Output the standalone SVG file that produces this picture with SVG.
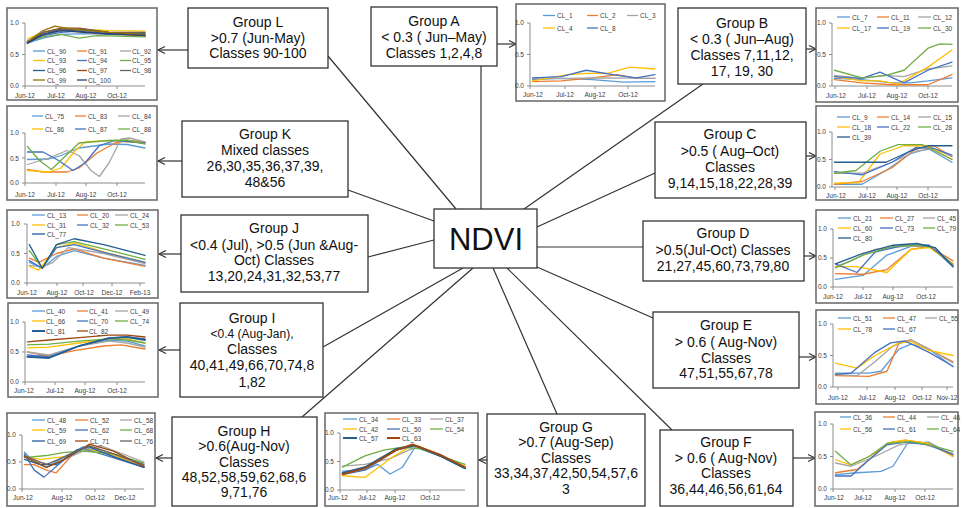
<svg xmlns="http://www.w3.org/2000/svg" width="962" height="508" viewBox="0 0 962 508">
<style>
.box{fill:#fff;stroke:#333;stroke-width:1.3}
.gt{font-family:"Liberation Sans",Arial,sans-serif;font-size:14px;fill:#111;text-anchor:middle}
.fr{fill:#fff;stroke:#666;stroke-width:1.5}
.ax{stroke:#8c8c8c;stroke-width:1;fill:none}
.tk{font-family:"Liberation Sans",Arial,sans-serif;font-size:6.5px;fill:#404040}
.ty{font-family:"Liberation Sans",Arial,sans-serif;font-size:6.5px;fill:#404040;text-anchor:end}
.tx{font-family:"Liberation Sans",Arial,sans-serif;font-size:6.5px;fill:#404040;text-anchor:middle}
.d{fill:none;stroke-width:1.3;vector-effect:non-scaling-stroke;stroke-linejoin:round;stroke-linecap:round}
.lgl{stroke-width:1.3}
.c1{stroke:#5B9BD5}.c2{stroke:#ED7D31}.c3{stroke:#A5A5A5}.c4{stroke:#FFC000}.c5{stroke:#4472C4}.c6{stroke:#70AD47}.c7{stroke:#255E91}.c8{stroke:#9E480E}.c9{stroke:#636363}.c10{stroke:#997300}.c11{stroke:#264478}
.cn{stroke:#333;stroke-width:1.2;fill:none}
.ar{stroke:#333;stroke-width:1.2;fill:none;marker-end:url(#ah)}
</style>
<defs>
<marker id="ah" markerWidth="10" markerHeight="10" refX="8" refY="4.5" orient="auto" markerUnits="userSpaceOnUse"><path d="M1,1 L8,4.5 L1,8" fill="none" stroke="#333" stroke-width="1.2"/></marker>
</defs>
<rect width="962" height="508" fill="#fff"/>

<g id="connectors">
<line class="cn" x1="328" y1="56" x2="456" y2="209"/>
<line class="cn" x1="481" y1="66" x2="481" y2="209"/>
<line class="cn" x1="703" y1="84" x2="524" y2="209"/>
<line class="cn" x1="655" y1="173" x2="537" y2="227"/>
<line class="cn" x1="643" y1="247" x2="537" y2="247"/>
<line class="cn" x1="653" y1="318" x2="537" y2="267"/>
<line class="cn" x1="672" y1="430" x2="507" y2="268"/>
<line class="cn" x1="557" y1="414" x2="493" y2="268"/>
<line class="cn" x1="302" y1="417" x2="473" y2="268"/>
<line class="cn" x1="323" y1="347" x2="463" y2="268"/>
<line class="cn" x1="368" y1="257" x2="434" y2="240"/>
<line class="cn" x1="348" y1="190" x2="434" y2="221"/>
<line class="ar" x1="188" y1="50" x2="158" y2="50"/>
<line class="ar" x1="182" y1="161" x2="158" y2="161"/>
<line class="ar" x1="181" y1="254" x2="159" y2="254"/>
<line class="ar" x1="180" y1="350" x2="159" y2="350"/>
<line class="ar" x1="172" y1="458" x2="156" y2="458"/>
<line class="ar" x1="487" y1="460" x2="479" y2="460"/>
<line class="ar" x1="497" y1="44" x2="516" y2="44"/>
<line class="ar" x1="806" y1="49" x2="816" y2="49"/>
<line class="ar" x1="806" y1="156" x2="816" y2="156"/>
<line class="ar" x1="804" y1="256" x2="816" y2="256"/>
<line class="ar" x1="799" y1="357" x2="816" y2="357"/>
<line class="ar" x1="793" y1="458" x2="815" y2="458"/>
</g>

<g id="ndvi">
<rect class="box" x="434" y="209" width="103" height="59"/>
<text x="486" y="250" style="font-family:'Liberation Sans',Arial,sans-serif;font-size:31px;fill:#111;text-anchor:middle">NDVI</text>
</g>

<g id="groupL"><rect class="box" x="188" y="8" width="140" height="60"/>
<text class="gt" x="258" y="27">Group L</text><text class="gt" x="258" y="43">&gt;0.7 (Jun-May)</text><text class="gt" x="258" y="58">Classes 90-100</text></g>
<g id="groupA"><rect class="box" x="371" y="7" width="126" height="59"/>
<text class="gt" x="434" y="26">Group A</text><text class="gt" x="434" y="42">&lt; 0.3 ( Jun–May)</text><text class="gt" x="434" y="58">Classes 1,2,4,8</text></g>
<g id="groupB"><rect class="box" x="678" y="8" width="128" height="76"/>
<text class="gt" x="742" y="28">Group B</text><text class="gt" x="742" y="44">&lt; 0.3 ( Jun–Aug)</text><text class="gt" x="742" y="60">Classes 7,11,12,</text><text class="gt" x="742" y="76">17, 19, 30</text></g>
<g id="groupK"><rect class="box" x="182" y="121" width="166" height="76"/>
<text class="gt" x="265" y="139">Group K</text><text class="gt" x="265" y="155">Mixed classes</text><text class="gt" x="265" y="171">26,30,35,36,37,39,</text><text class="gt" x="265" y="187">48&amp;56</text></g>
<g id="groupC"><rect class="box" x="655" y="122" width="151" height="76"/>
<text class="gt" x="730" y="139">Group C</text><text class="gt" x="730" y="156">&gt;0.5 ( Aug–Oct)</text><text class="gt" x="730" y="172">Classes</text><text class="gt" x="730" y="188">9,14,15,18,22,28,39</text></g>
<g id="groupJ"><rect class="box" x="181" y="215" width="187" height="77"/>
<text class="gt" x="274" y="233">Group J</text><text class="gt" x="274" y="250">&lt;0.4 (Jul), &gt;0.5 (Jun &amp;Aug-</text><text class="gt" x="274" y="265">Oct) Classes</text><text class="gt" x="274" y="281">13,20,24,31,32,53,77</text></g>
<g id="groupD"><rect class="box" x="643" y="221" width="161" height="60"/>
<text class="gt" x="723" y="238">Group D</text><text class="gt" x="723" y="255">&gt;0.5(Jul-Oct) Classes</text><text class="gt" x="723" y="271">21,27,45,60,73,79,80</text></g>
<g id="groupI"><rect class="box" x="180" y="303" width="143" height="94"/>
<text class="gt" x="252" y="323">Group I</text><text class="gt" x="252" y="338" style="font-size:12px">&lt;0.4 (Aug-Jan),</text><text class="gt" x="252" y="354">Classes</text><text class="gt" x="252" y="370">40,41,49,66,70,74,8</text><text class="gt" x="252" y="387">1,82</text></g>
<g id="groupE"><rect class="box" x="653" y="312" width="146" height="76"/>
<text class="gt" x="726" y="330">Group E</text><text class="gt" x="726" y="347">&gt; 0.6 ( Aug-Nov)</text><text class="gt" x="726" y="363">Classes</text><text class="gt" x="726" y="378">47,51,55,67,78</text></g>
<g id="groupH"><rect class="box" x="172" y="417" width="145" height="89"/>
<text class="gt" x="244" y="436">Group H</text><text class="gt" x="244" y="451">&gt;0.6(Aug-Nov)</text><text class="gt" x="244" y="467">Classes</text><text class="gt" x="244" y="482">48,52,58,59,62,68,6</text><text class="gt" x="244" y="497">9,71,76</text></g>
<g id="groupG"><rect class="box" x="487" y="414" width="158" height="92"/>
<text class="gt" x="566" y="432">Group G</text><text class="gt" x="566" y="447">&gt;0.7 (Aug-Sep)</text><text class="gt" x="566" y="463">Classes</text><text class="gt" x="566" y="478">33,34,37,42,50,54,57,6</text><text class="gt" x="566" y="494">3</text></g>
<g id="groupF"><rect class="box" x="660" y="430" width="133" height="76"/>
<text class="gt" x="726" y="447">Group F</text><text class="gt" x="726" y="463">&gt; 0.6 ( Aug-Nov)</text><text class="gt" x="726" y="478">Classes</text><text class="gt" x="726" y="494">36,44,46,56,61,64</text></g>

<!-- Chart L -->
<g id="chartL">
<rect class="fr" x="7" y="8" width="150" height="92"/>
<path class="ax" d="M25,23V86H145M22,23H25M22,54.5H25M22,86H25M25,86v3M56,86v3M86,86v3M117,86v3"/>
<text class="ty" x="19" y="25">1.0</text><text class="ty" x="19" y="57">0.5</text><text class="ty" x="19" y="88">0.0</text>
<text class="tx" x="25" y="98">Jun-12</text><text class="tx" x="56" y="98">Jul-12</text><text class="tx" x="86" y="98">Aug-12</text><text class="tx" x="117" y="98">Oct-12</text>
<g transform="translate(25,86) scale(120,-63)">
<polyline class="d c1" points="0.02,0.68 0.15,0.76 0.3,0.82 0.5,0.83 0.7,0.82 1,0.8"/>
<polyline class="d c2" points="0.02,0.7 0.15,0.8 0.3,0.88 0.5,0.85 0.7,0.82 1,0.8"/>
<polyline class="d c3" points="0.02,0.72 0.15,0.82 0.3,0.87 0.5,0.88 0.7,0.85 1,0.84"/>
<polyline class="d c4" points="0.02,0.75 0.15,0.85 0.3,0.9 0.5,0.9 0.7,0.88 1,0.87"/>
<polyline class="d c5" points="0.02,0.7 0.15,0.8 0.3,0.85 0.5,0.88 0.7,0.82 1,0.82"/>
<polyline class="d c6" points="0.02,0.7 0.15,0.78 0.3,0.82 0.45,0.76 0.6,0.8 1,0.78"/>
<polyline class="d c7" points="0.02,0.68 0.15,0.82 0.3,0.9 0.5,0.86 0.7,0.82 1,0.83"/>
<polyline class="d c8" points="0.02,0.68 0.15,0.85 0.3,0.92 0.45,0.92 0.7,0.85 1,0.8"/>
<polyline class="d c9" points="0.02,0.7 0.15,0.85 0.3,0.9 0.5,0.9 0.7,0.85 1,0.85"/>
<polyline class="d c10" points="0.02,0.7 0.15,0.88 0.25,0.95 0.4,0.9 0.7,0.85 1,0.82"/>
<polyline class="d c11" points="0.02,0.68 0.15,0.82 0.3,0.88 0.5,0.85 0.7,0.83 1,0.8"/>
</g>
<g class="tk">
<line class="lgl c1" x1="33" y1="51" x2="45" y2="51"/><text x="47" y="53.5">CL_90</text>
<line class="lgl c2" x1="77" y1="51" x2="87" y2="51"/><text x="88" y="53.5">CL_91</text>
<line class="lgl c3" x1="120" y1="51" x2="131" y2="51"/><text x="132" y="53.5">CL_92</text>
<line class="lgl c4" x1="33" y1="60.5" x2="45" y2="60.5"/><text x="47" y="63">CL_93</text>
<line class="lgl c5" x1="77" y1="60.5" x2="87" y2="60.5"/><text x="88" y="63">CL_94</text>
<line class="lgl c6" x1="120" y1="60.5" x2="131" y2="60.5"/><text x="132" y="63">CL_95</text>
<line class="lgl c7" x1="33" y1="70.5" x2="45" y2="70.5"/><text x="47" y="73">CL_96</text>
<line class="lgl c8" x1="77" y1="70.5" x2="87" y2="70.5"/><text x="88" y="73">CL_97</text>
<line class="lgl c9" x1="120" y1="70.5" x2="131" y2="70.5"/><text x="132" y="73">CL_98</text>
<line class="lgl c10" x1="33" y1="80" x2="45" y2="80"/><text x="47" y="82.5">CL_99</text>
<line class="lgl c11" x1="77" y1="80" x2="87" y2="80"/><text x="88" y="82.5">CL_100</text>
</g>
</g>

<!-- Chart K -->
<g id="chartK">
<rect class="fr" x="7" y="106" width="150" height="94"/>
<path class="ax" d="M25,133V183H145M22,133H25M22,158H25M22,183H25M25,183v3M56,183v3M86,183v3M117,183v3"/>
<text class="ty" x="19" y="135">1.0</text><text class="ty" x="19" y="160.5">0.5</text><text class="ty" x="19" y="185">0.0</text>
<text class="tx" x="25" y="197">Jun-12</text><text class="tx" x="56" y="197">Jul-12</text><text class="tx" x="86" y="197">Aug-12</text><text class="tx" x="117" y="197">Oct-12</text>
<g transform="translate(25,183) scale(120,-50)">
<polyline class="d c1" points="0.02,0.47 0.2,0.48 0.3,0.55 0.45,0.7 0.7,0.78 0.85,0.77 1,0.7"/>
<polyline class="d c2" points="0.02,0.27 0.15,0.22 0.35,0.22 0.45,0.3 0.6,0.6 0.75,0.8 0.85,0.85 1,0.82"/>
<polyline class="d c3" points="0.02,0.37 0.2,0.5 0.35,0.65 0.45,0.55 0.55,0.25 0.62,0.13 0.7,0.4 0.8,0.88 0.87,0.9 1,0.82"/>
<polyline class="d c4" points="0.02,0.25 0.2,0.22 0.3,0.3 0.42,0.65 0.5,0.82 0.7,0.85 1,0.8"/>
<polyline class="d c5" points="0.02,0.62 0.15,0.62 0.28,0.45 0.4,0.25 0.5,0.4 0.62,0.75 0.75,0.85 1,0.8"/>
<polyline class="d c6" points="0.02,0.73 0.12,0.45 0.22,0.27 0.32,0.5 0.45,0.8 0.7,0.85 0.85,0.86 1,0.78"/>
</g>
<g class="tk">
<line class="lgl c1" x1="32" y1="116" x2="43" y2="116"/><text x="45" y="118.5">CL_75</text>
<line class="lgl c2" x1="75" y1="116" x2="86" y2="116"/><text x="88" y="118.5">CL_83</text>
<line class="lgl c3" x1="118" y1="116" x2="130" y2="116"/><text x="132" y="118.5">CL_84</text>
<line class="lgl c4" x1="32" y1="129" x2="43" y2="129"/><text x="45" y="131.5">CL_86</text>
<line class="lgl c5" x1="75" y1="129" x2="86" y2="129"/><text x="88" y="131.5">CL_87</text>
<line class="lgl c6" x1="118" y1="129" x2="130" y2="129"/><text x="132" y="131.5">CL_88</text>
</g>
</g>

<!-- Chart J -->
<g id="chartJ">
<rect class="fr" x="7" y="210" width="151" height="88"/>
<path class="ax" d="M27,224V283H145M24,224H27M24,253.5H27M24,283H27M27,283v3M57,283v3M83,283v3M112,283v3M140,283v3"/>
<text class="ty" x="20" y="226">1.0</text><text class="ty" x="20" y="255.5">0.5</text><text class="ty" x="20" y="285">0.0</text>
<text class="tx" x="27" y="295">Jun-12</text><text class="tx" x="57" y="295">Aug-12</text><text class="tx" x="84" y="295">Oct-12</text><text class="tx" x="112" y="295">Dec-12</text><text class="tx" x="140" y="295">Feb-13</text>
<g transform="translate(27,283) scale(118,-59)">
<polyline class="d c1" points="0.02,0.35 0.13,0.25 0.25,0.45 0.4,0.55 0.65,0.42 1,0.3"/>
<polyline class="d c2" points="0.02,0.42 0.1,0.35 0.25,0.5 0.4,0.58 0.65,0.42 1,0.28"/>
<polyline class="d c3" points="0.02,0.3 0.13,0.27 0.22,0.35 0.35,0.6 0.65,0.5 1,0.33"/>
<polyline class="d c4" points="0.02,0.28 0.1,0.22 0.25,0.6 0.4,0.68 0.7,0.5 1,0.35"/>
<polyline class="d c5" points="0.02,0.38 0.13,0.25 0.25,0.6 0.4,0.65 0.65,0.52 1,0.35"/>
<polyline class="d c6" points="0.02,0.55 0.13,0.25 0.25,0.65 0.4,0.7 0.65,0.58 1,0.4"/>
<polyline class="d c7" points="0.02,0.65 0.13,0.25 0.25,0.65 0.4,0.75 0.65,0.65 1,0.47"/>
</g>
<g class="tk">
<line class="lgl c1" x1="32" y1="215" x2="45" y2="215"/><text x="47" y="217.5">CL_13</text>
<line class="lgl c2" x1="77" y1="215" x2="88" y2="215"/><text x="90" y="217.5">CL_20</text>
<line class="lgl c3" x1="115" y1="215" x2="128" y2="215"/><text x="130" y="217.5">CL_24</text>
<line class="lgl c4" x1="32" y1="225" x2="45" y2="225"/><text x="47" y="227.5">CL_31</text>
<line class="lgl c5" x1="77" y1="225" x2="88" y2="225"/><text x="90" y="227.5">CL_32</text>
<line class="lgl c6" x1="115" y1="225" x2="128" y2="225"/><text x="130" y="227.5">CL_53</text>
<line class="lgl c7" x1="32" y1="234" x2="45" y2="234"/><text x="47" y="236.5">CL_77</text>
</g>
</g>

<!-- Chart I -->
<g id="chartI">
<rect class="fr" x="8" y="303" width="150" height="94"/>
<path class="ax" d="M25,322V382H145M22,322H25M22,352H25M22,382H25M25,382v3M55,382v3M85,382v3M117,382v3"/>
<text class="ty" x="19" y="324">1.0</text><text class="ty" x="19" y="354">0.5</text><text class="ty" x="19" y="384">0.0</text>
<text class="tx" x="24" y="393">Jun-12</text><text class="tx" x="55" y="393">Jul-12</text><text class="tx" x="85" y="393">Aug-12</text><text class="tx" x="117" y="393">Oct-12</text>
<g transform="translate(25,382) scale(120,-60)">
<polyline class="d c1" points="0.02,0.42 0.2,0.45 0.45,0.6 0.7,0.7 0.85,0.68 1,0.6"/>
<polyline class="d c2" points="0.02,0.5 0.2,0.43 0.4,0.52 0.65,0.6 0.8,0.62 1,0.55"/>
<polyline class="d c3" points="0.02,0.5 0.2,0.45 0.45,0.6 0.7,0.68 0.85,0.65 1,0.58"/>
<polyline class="d c4" points="0.02,0.57 0.2,0.58 0.45,0.65 0.7,0.72 0.85,0.72 1,0.65"/>
<polyline class="d c5" points="0.02,0.45 0.2,0.42 0.45,0.6 0.7,0.73 0.85,0.75 1,0.72"/>
<polyline class="d c6" points="0.02,0.62 0.2,0.63 0.45,0.68 0.7,0.72 0.85,0.7 1,0.65"/>
<polyline class="d c7" points="0.02,0.42 0.2,0.4 0.45,0.6 0.7,0.73 0.85,0.75 1,0.7" style="stroke-width:1.8"/>
<polyline class="d c8" points="0.02,0.67 0.2,0.7 0.45,0.74 0.7,0.78 0.85,0.78 1,0.75"/>
</g>
<g class="tk">
<line class="lgl c1" x1="32" y1="311" x2="45" y2="311"/><text x="46" y="313.5">CL_40</text>
<line class="lgl c2" x1="77" y1="311" x2="88" y2="311"/><text x="89" y="313.5">CL_41</text>
<line class="lgl c3" x1="115" y1="311" x2="128" y2="311"/><text x="130" y="313.5">CL_49</text>
<line class="lgl c4" x1="32" y1="321" x2="45" y2="321"/><text x="46" y="323.5">CL_66</text>
<line class="lgl c5" x1="77" y1="321" x2="88" y2="321"/><text x="89" y="323.5">CL_70</text>
<line class="lgl c6" x1="115" y1="321" x2="128" y2="321"/><text x="130" y="323.5">CL_74</text>
<line class="lgl c7" x1="32" y1="331" x2="45" y2="331" style="stroke-width:2"/><text x="46" y="333.5">CL_81</text>
<line class="lgl c8" x1="77" y1="331" x2="88" y2="331"/><text x="89" y="333.5">CL_82</text>
</g>
</g>

<!-- Chart H -->
<g id="chartH">
<rect class="fr" x="7" y="413" width="148" height="93"/>
<path class="ax" d="M22,435V489H144M19,435H22M19,462H22M19,489H22M22,489v3M62,489v3M95,489v3M125,489v3"/>
<text class="ty" x="16" y="437">1.0</text><text class="ty" x="16" y="464">0.5</text><text class="ty" x="16" y="491">0.0</text>
<text class="tx" x="23" y="500">Jun-12</text><text class="tx" x="62" y="500">Aug-12</text><text class="tx" x="95" y="500">Oct-12</text><text class="tx" x="125" y="500">Dec-12</text>
<g transform="translate(22,489) scale(122,-54)">
<polyline class="d c1" points="0.02,0.68 0.1,0.5 0.2,0.4 0.35,0.6 0.5,0.78 0.7,0.65 1,0.42"/>
<polyline class="d c2" points="0.02,0.45 0.1,0.45 0.2,0.35 0.28,0.3 0.42,0.65 0.55,0.8 0.75,0.65 1,0.42"/>
<polyline class="d c3" points="0.02,0.6 0.12,0.5 0.25,0.45 0.5,0.7 0.65,0.8 1,0.5"/>
<polyline class="d c4" points="0.02,0.6 0.15,0.55 0.35,0.6 0.5,0.75 0.72,0.65 1,0.4"/>
<polyline class="d c5" points="0.02,0.65 0.1,0.35 0.18,0.22 0.35,0.55 0.5,0.75 0.72,0.6 1,0.4"/>
<polyline class="d c6" points="0.02,0.58 0.2,0.62 0.35,0.68 0.5,0.7 0.75,0.65 1,0.48"/>
<polyline class="d c7" points="0.02,0.55 0.15,0.45 0.28,0.45 0.45,0.72 0.55,0.78 0.75,0.6 1,0.4"/>
<polyline class="d c8" points="0.02,0.6 0.2,0.4 0.35,0.55 0.55,0.83 0.75,0.7 1,0.42"/>
<polyline class="d c9" points="0.02,0.62 0.2,0.45 0.35,0.6 0.55,0.8 0.75,0.65 1,0.45"/>
</g>
<g class="tk">
<line class="lgl c1" x1="32" y1="420" x2="45" y2="420"/><text x="47" y="422.5">CL_48</text>
<line class="lgl c2" x1="75" y1="420" x2="88" y2="420"/><text x="90" y="422.5">CL_52</text>
<line class="lgl c3" x1="120" y1="420" x2="132" y2="420"/><text x="134" y="422.5">CL_58</text>
<line class="lgl c4" x1="32" y1="430" x2="45" y2="430"/><text x="47" y="432.5">CL_59</text>
<line class="lgl c5" x1="75" y1="430" x2="88" y2="430"/><text x="90" y="432.5">CL_62</text>
<line class="lgl c6" x1="120" y1="430" x2="132" y2="430"/><text x="134" y="432.5">CL_68</text>
<line class="lgl c7" x1="32" y1="441" x2="45" y2="441"/><text x="47" y="443.5">CL_69</text>
<line class="lgl c8" x1="75" y1="441" x2="88" y2="441"/><text x="90" y="443.5">CL_71</text>
<line class="lgl c9" x1="120" y1="441" x2="132" y2="441"/><text x="134" y="443.5">CL_76</text>
</g>
</g>

<!-- Chart G -->
<g id="chartG">
<rect class="fr" x="325" y="413" width="153" height="93"/>
<path class="ax" d="M340,433V490H465M337,433H340M337,461.5H340M337,490H340M340,490v3M367,490v3M395,490v3M430,490v3"/>
<text class="ty" x="334" y="435">1.0</text><text class="ty" x="334" y="463.5">0.5</text><text class="ty" x="334" y="492">0.0</text>
<text class="tx" x="338" y="500">Jun-12</text><text class="tx" x="367" y="500">Jul-12</text><text class="tx" x="395" y="500">Aug-12</text><text class="tx" x="430" y="500">Oct-12</text>
<g transform="translate(340,490) scale(125,-57)">
<polyline class="d c1" points="0.02,0.33 0.2,0.35 0.3,0.45 0.4,0.28 0.5,0.4 0.6,0.75 0.8,0.6 1,0.4"/>
<polyline class="d c2" points="0.02,0.27 0.2,0.4 0.45,0.7 0.6,0.78 0.8,0.6 1,0.4"/>
<polyline class="d c3" points="0.02,0.42 0.2,0.45 0.4,0.55 0.55,0.7 0.62,0.75 0.8,0.6 1,0.4"/>
<polyline class="d c4" points="0.02,0.25 0.2,0.22 0.4,0.55 0.55,0.75 0.62,0.78 0.8,0.6 1,0.42"/>
<polyline class="d c5" points="0.02,0.27 0.2,0.35 0.45,0.7 0.6,0.78 0.8,0.6 1,0.38"/>
<polyline class="d c6" points="0.02,0.4 0.2,0.6 0.35,0.7 0.5,0.75 0.65,0.72 0.8,0.6 1,0.45"/>
<polyline class="d c7" points="0.02,0.3 0.2,0.4 0.45,0.72 0.6,0.78 0.8,0.6 1,0.38" style="stroke-width:1.8"/>
<polyline class="d c8" points="0.02,0.28 0.2,0.38 0.45,0.7 0.58,0.8 0.8,0.62 1,0.4" style="stroke-width:1.8"/>
</g>
<g class="tk">
<line class="lgl c1" x1="343" y1="419" x2="357" y2="419"/><text x="359" y="421.5">CL_34</text>
<line class="lgl c2" x1="387" y1="419" x2="400" y2="419"/><text x="402" y="421.5">CL_33</text>
<line class="lgl c3" x1="430" y1="419" x2="443" y2="419"/><text x="445" y="421.5">CL_37</text>
<line class="lgl c4" x1="343" y1="429" x2="357" y2="429"/><text x="359" y="431.5">CL_42</text>
<line class="lgl c5" x1="387" y1="429" x2="400" y2="429"/><text x="402" y="431.5">CL_50</text>
<line class="lgl c6" x1="430" y1="429" x2="443" y2="429"/><text x="445" y="431.5">CL_54</text>
<line class="lgl c7" x1="343" y1="438" x2="357" y2="438" style="stroke-width:2"/><text x="359" y="440.5">CL_57</text>
<line class="lgl c8" x1="387" y1="438" x2="400" y2="438" style="stroke-width:2"/><text x="402" y="440.5">CL_63</text>
</g>
</g>

<!-- Chart A -->
<g id="chartA">
<rect class="fr" x="516" y="4" width="149" height="97"/>
<path class="ax" d="M530,23V86H655M527,23H530M527,54.5H530M527,86H530M530,86v3M565,86v3M595,86v3M628,86v3"/>
<text class="ty" x="524" y="25">1.0</text><text class="ty" x="524" y="56.5">0.5</text><text class="ty" x="524" y="88">0.0</text>
<text class="tx" x="533" y="97">Jun-12</text><text class="tx" x="565" y="97">Jul-12</text><text class="tx" x="595" y="97">Aug-12</text><text class="tx" x="628" y="97">Oct-12</text>
<g transform="translate(530,86) scale(125,-63)">
<polyline class="d c1" points="0.02,0.1 0.25,0.12 0.5,0.1 0.75,0.06 1,0.07"/>
<polyline class="d c2" points="0.02,0.07 0.25,0.08 0.5,0.13 0.7,0.18 0.85,0.12 1,0.12"/>
<polyline class="d c3" points="0.02,0.12 0.3,0.12 0.6,0.13 1,0.12"/>
<polyline class="d c4" points="0.02,0.08 0.3,0.18 0.45,0.2 0.62,0.2 0.8,0.3 1,0.27"/>
<polyline class="d c5" points="0.02,0.13 0.25,0.15 0.45,0.25 0.7,0.17 0.85,0.13 1,0.18"/>
</g>
<g class="tk">
<line class="lgl c1" x1="543" y1="15.5" x2="555" y2="15.5"/><text x="557" y="18">CL_1</text>
<line class="lgl c2" x1="587" y1="15.5" x2="598" y2="15.5"/><text x="600" y="18">CL_2</text>
<line class="lgl c3" x1="627" y1="15.5" x2="638" y2="15.5"/><text x="640" y="18">CL_3</text>
<line class="lgl c4" x1="543" y1="28" x2="555" y2="28"/><text x="557" y="30.5">CL_4</text>
<line class="lgl c5" x1="587" y1="28" x2="598" y2="28"/><text x="600" y="30.5">CL_8</text>
</g>
</g>

<!-- Chart B -->
<g id="chartB">
<rect class="fr" x="816" y="8" width="142" height="94"/>
<path class="ax" d="M832,23V86H952M829,23H832M829,54.5H832M829,86H832M835,86v3M867,86v3M897,86v3M928,86v3"/>
<text class="ty" x="826" y="25">1.0</text><text class="ty" x="826" y="56.5">0.5</text><text class="ty" x="826" y="88">0.0</text>
<text class="tx" x="836" y="98">Jun-12</text><text class="tx" x="867" y="98">Jul-12</text><text class="tx" x="897" y="98">Aug-12</text><text class="tx" x="928" y="98">Oct-12</text>
<g transform="translate(832,86) scale(120,-63)">
<polyline class="d c1" points="0.02,0.12 0.25,0.1 0.5,0.05 0.65,0.05 0.8,0.08 1,0.13"/>
<polyline class="d c2" points="0.02,0.1 0.25,0.05 0.5,0.02 0.8,0.02 1,0.18"/>
<polyline class="d c3" points="0.02,0.17 0.25,0.12 0.45,0.17 0.6,0.15 0.8,0.27 1,0.32"/>
<polyline class="d c4" points="0.02,0.15 0.25,0.08 0.4,0.08 0.55,0.03 0.8,0.3 1,0.57"/>
<polyline class="d c5" points="0.02,0.15 0.25,0.12 0.4,0.22 0.6,0.05 0.8,0.25 1,0.38"/>
<polyline class="d c6" points="0.02,0.25 0.25,0.13 0.45,0.17 0.6,0.25 0.8,0.6 0.9,0.67 1,0.66"/>
</g>
<g class="tk">
<line class="lgl c1" x1="837" y1="17" x2="850" y2="17"/><text x="852" y="19.5">CL_7</text>
<line class="lgl c2" x1="877" y1="17" x2="889" y2="17"/><text x="891" y="19.5">CL_11</text>
<line class="lgl c3" x1="918" y1="17" x2="931" y2="17"/><text x="933" y="19.5">CL_12</text>
<line class="lgl c4" x1="837" y1="28" x2="850" y2="28"/><text x="852" y="30.5">CL_17</text>
<line class="lgl c5" x1="877" y1="28" x2="889" y2="28"/><text x="891" y="30.5">CL_19</text>
<line class="lgl c6" x1="918" y1="28" x2="931" y2="28"/><text x="933" y="30.5">CL_30</text>
</g>
</g>

<!-- Chart C -->
<g id="chartC">
<rect class="fr" x="816" y="106" width="142" height="94"/>
<path class="ax" d="M832,132V187H952M829,132H832M829,159.5H832M829,187H832M835,187v3M867,187v3M897,187v3M928,187v3"/>
<text class="ty" x="826" y="134">1.0</text><text class="ty" x="826" y="161.5">0.5</text><text class="ty" x="826" y="189">0.0</text>
<text class="tx" x="836" y="198">Jun-12</text><text class="tx" x="867" y="198">Jul-12</text><text class="tx" x="897" y="198">Aug-12</text><text class="tx" x="928" y="198">Oct-12</text>
<g transform="translate(832,187) scale(120,-55)">
<polyline class="d c1" points="0.02,0.05 0.25,0.05 0.45,0.3 0.65,0.6 0.8,0.7 1,0.45"/>
<polyline class="d c2" points="0.02,0.05 0.25,0.1 0.5,0.35 0.7,0.7 0.85,0.75 1,0.55"/>
<polyline class="d c3" points="0.02,0.25 0.25,0.25 0.5,0.45 0.7,0.65 0.85,0.7 1,0.55"/>
<polyline class="d c4" points="0.02,0.07 0.22,0.08 0.4,0.6 0.6,0.75 0.8,0.75 1,0.5"/>
<polyline class="d c5" points="0.02,0.28 0.25,0.22 0.5,0.45 0.7,0.72 0.85,0.7 1,0.58"/>
<polyline class="d c6" points="0.02,0.25 0.2,0.3 0.4,0.65 0.55,0.77 0.75,0.77 1,0.5"/>
<polyline class="d c7" points="0.02,0.45 0.3,0.45 0.45,0.45 0.65,0.65 0.8,0.75 1,0.75"/>
</g>
<g class="tk">
<line class="lgl c1" x1="837" y1="117" x2="850" y2="117"/><text x="852" y="119.5">CL_9</text>
<line class="lgl c2" x1="877" y1="117" x2="889" y2="117"/><text x="891" y="119.5">CL_14</text>
<line class="lgl c3" x1="918" y1="117" x2="931" y2="117"/><text x="933" y="119.5">CL_15</text>
<line class="lgl c4" x1="837" y1="127" x2="850" y2="127"/><text x="852" y="129.5">CL_18</text>
<line class="lgl c5" x1="877" y1="127" x2="889" y2="127"/><text x="891" y="129.5">CL_22</text>
<line class="lgl c6" x1="918" y1="127" x2="931" y2="127"/><text x="933" y="129.5">CL_28</text>
<line class="lgl c7" x1="837" y1="137" x2="850" y2="137"/><text x="852" y="139.5">CL_39</text>
</g>
</g>

<!-- Chart D -->
<g id="chartD">
<rect class="fr" x="816" y="210" width="142" height="93"/>
<path class="ax" d="M833,229V287H953M830,229H833M830,258H833M830,287H833M833,287v3M863,287v3M893,287v3M926,287v3"/>
<text class="ty" x="827" y="231">1.0</text><text class="ty" x="827" y="260">0.5</text><text class="ty" x="827" y="289">0.0</text>
<text class="tx" x="833" y="299">Jun-12</text><text class="tx" x="863" y="299">Jul-12</text><text class="tx" x="893" y="299">Aug-12</text><text class="tx" x="926" y="299">Oct-12</text>
<g transform="translate(833,287) scale(120,-58)">
<polyline class="d c1" points="0.02,0.13 0.25,0.2 0.45,0.55 0.65,0.7 0.8,0.72 1,0.35"/>
<polyline class="d c2" points="0.02,0.23 0.25,0.22 0.45,0.3 0.65,0.65 0.8,0.7 1,0.45"/>
<polyline class="d c3" points="0.02,0.35 0.15,0.45 0.35,0.65 0.6,0.7 0.8,0.7 1,0.4"/>
<polyline class="d c4" points="0.02,0.35 0.2,0.35 0.45,0.25 0.65,0.65 0.8,0.68 1,0.4"/>
<polyline class="d c5" points="0.02,0.4 0.2,0.25 0.35,0.6 0.6,0.72 0.8,0.72 1,0.38"/>
<polyline class="d c6" points="0.02,0.33 0.25,0.55 0.5,0.7 0.7,0.72 0.85,0.68 1,0.37"/>
<polyline class="d c7" points="0.02,0.4 0.25,0.58 0.5,0.72 0.7,0.75 0.85,0.68 1,0.35"/>
</g>
<g class="tk">
<line class="lgl c1" x1="838" y1="218" x2="851" y2="218"/><text x="853" y="220.5">CL_21</text>
<line class="lgl c2" x1="880" y1="218" x2="893" y2="218"/><text x="895" y="220.5">CL_27</text>
<line class="lgl c3" x1="923" y1="218" x2="935" y2="218"/><text x="937" y="220.5">CL_45</text>
<line class="lgl c4" x1="838" y1="228" x2="851" y2="228"/><text x="853" y="230.5">CL_60</text>
<line class="lgl c5" x1="880" y1="228" x2="893" y2="228"/><text x="895" y="230.5">CL_73</text>
<line class="lgl c6" x1="923" y1="228" x2="935" y2="228"/><text x="937" y="230.5">CL_79</text>
<line class="lgl c7" x1="838" y1="238" x2="851" y2="238"/><text x="853" y="240.5">CL_80</text>
</g>
</g>

<!-- Chart E -->
<g id="chartE">
<rect class="fr" x="816" y="310" width="142" height="94"/>
<path class="ax" d="M833,324V387H953M830,324H833M830,355.5H833M830,387H833M838,387v3M867,387v3M895,387v3M922,387v3M947,387v3"/>
<text class="ty" x="827" y="326">1.0</text><text class="ty" x="827" y="357.5">0.5</text><text class="ty" x="827" y="389">0.0</text>
<text class="tx" x="838" y="400">Jun-12</text><text class="tx" x="867" y="400">Jul-12</text><text class="tx" x="895" y="400">Aug-12</text><text class="tx" x="922" y="400">Oct-12</text><text class="tx" x="947" y="400">Nov-12</text>
<g transform="translate(833,387) scale(120,-63)">
<polyline class="d c1" points="0.02,0.22 0.3,0.22 0.4,0.25 0.55,0.6 0.65,0.68 0.8,0.6 1,0.32"/>
<polyline class="d c2" points="0.02,0.18 0.3,0.17 0.45,0.25 0.55,0.7 0.65,0.75 0.8,0.6 1,0.4"/>
<polyline class="d c3" points="0.02,0.2 0.2,0.18 0.35,0.4 0.5,0.65 0.65,0.75 0.8,0.6 1,0.38"/>
<polyline class="d c4" points="0.02,0.38 0.2,0.3 0.35,0.5 0.55,0.7 0.65,0.72 0.8,0.58 1,0.5"/>
<polyline class="d c5" points="0.02,0.2 0.15,0.22 0.35,0.55 0.48,0.7 0.6,0.73 0.8,0.55 1,0.33"/>
</g>
<g class="tk">
<line class="lgl c1" x1="838" y1="318" x2="851" y2="318"/><text x="853" y="320.5">CL_51</text>
<line class="lgl c2" x1="883" y1="318" x2="895" y2="318"/><text x="897" y="320.5">CL_47</text>
<line class="lgl c3" x1="925" y1="318" x2="937" y2="318"/><text x="939" y="320.5">CL_55</text>
<line class="lgl c4" x1="838" y1="329" x2="851" y2="329"/><text x="853" y="331.5">CL_78</text>
<line class="lgl c5" x1="883" y1="329" x2="895" y2="329"/><text x="897" y="331.5">CL_67</text>
</g>
</g>

<!-- Chart F -->
<g id="chartF">
<rect class="fr" x="815" y="412" width="143" height="94"/>
<path class="ax" d="M833,424V489H953M830,424H833M830,456.5H833M830,489H833M833,489v3M863,489v3M895,489v3M925,489v3"/>
<text class="ty" x="827" y="426">1.0</text><text class="ty" x="827" y="458.5">0.5</text><text class="ty" x="827" y="491">0.0</text>
<text class="tx" x="834" y="500">Jun-12</text><text class="tx" x="863" y="500">Jul-12</text><text class="tx" x="895" y="500">Aug-12</text><text class="tx" x="925" y="500">Oct-12</text>
<g transform="translate(833,489) scale(120,-65)">
<polyline class="d c1" points="0.02,0.22 0.2,0.25 0.4,0.27 0.5,0.35 0.62,0.7 0.8,0.72 1,0.52"/>
<polyline class="d c2" points="0.02,0.25 0.2,0.3 0.3,0.45 0.45,0.7 0.6,0.75 0.8,0.7 1,0.5"/>
<polyline class="d c3" points="0.02,0.4 0.15,0.35 0.35,0.5 0.55,0.68 0.7,0.72 1,0.55"/>
<polyline class="d c4" points="0.02,0.45 0.15,0.37 0.3,0.5 0.48,0.72 0.6,0.75 0.8,0.7 1,0.5"/>
<polyline class="d c5" points="0.02,0.2 0.15,0.2 0.3,0.45 0.45,0.68 0.6,0.72 0.8,0.68 1,0.53"/>
<polyline class="d c6" points="0.02,0.58 0.15,0.37 0.3,0.5 0.45,0.7 0.65,0.73 0.8,0.68 1,0.58"/>
</g>
<g class="tk">
<line class="lgl c1" x1="840" y1="417" x2="851" y2="417"/><text x="853" y="419.5">CL_36</text>
<line class="lgl c2" x1="883" y1="417" x2="895" y2="417"/><text x="897" y="419.5">CL_44</text>
<line class="lgl c3" x1="927" y1="417" x2="939" y2="417"/><text x="941" y="419.5">CL_46</text>
<line class="lgl c4" x1="840" y1="429" x2="851" y2="429"/><text x="853" y="431.5">CL_56</text>
<line class="lgl c5" x1="883" y1="429" x2="895" y2="429"/><text x="897" y="431.5">CL_61</text>
<line class="lgl c6" x1="927" y1="429" x2="939" y2="429"/><text x="941" y="431.5">CL_64</text>
</g>
</g>
</svg>
